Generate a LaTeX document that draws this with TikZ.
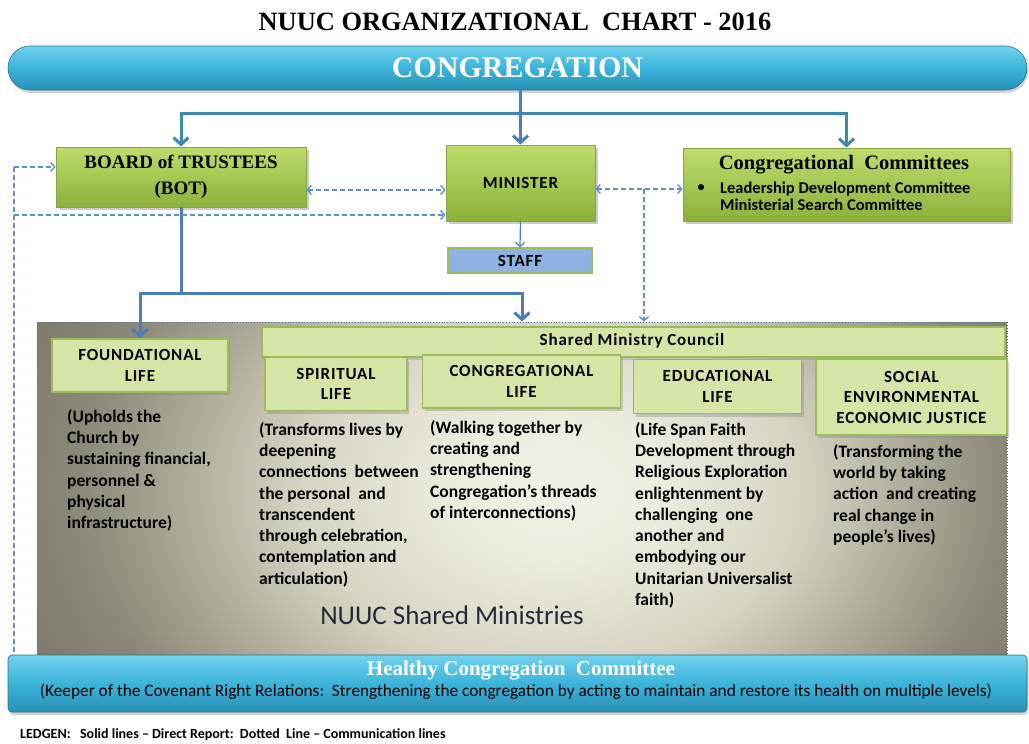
\documentclass[tikz,border=0pt]{standalone}
\usepackage{fontspec}
\setmainfont{Liberation Serif}
\newfontfamily\calib{Carlito}
\newfontfamily\calibsp[LetterSpace=5]{Carlito}
\usetikzlibrary{arrows.meta,shadows,calc}

\definecolor{cyanA}{HTML}{72D2EE}
\definecolor{cyanB}{HTML}{3BB4DA}
\definecolor{cyanC}{HTML}{2B90B6}
\definecolor{grnTop}{HTML}{BEDC6C}
\definecolor{grnBot}{HTML}{8BB13A}
\definecolor{grnEdge}{HTML}{86A63E}
\definecolor{lgrn}{HTML}{D5E5A6}
\definecolor{lgrnEdge}{HTML}{9BBB59}
\definecolor{lblue}{HTML}{8DB3E2}
\definecolor{lineBlue}{HTML}{4A7EBB}
\definecolor{lineTeal}{HTML}{3A8BAA}
\definecolor{dashBlue}{HTML}{5B8FD0}
\definecolor{bgA}{HTML}{F2F0E4}
\definecolor{bgB}{HTML}{EEECDF}
\definecolor{bgC}{HTML}{D6D3C3}
\definecolor{bgD}{HTML}{ADA999}
\definecolor{bgE}{HTML}{8C8879}
\definecolor{bgF}{HTML}{7A7668}
\definecolor{dotEdge}{HTML}{5A6E90}
\definecolor{smText}{HTML}{2A2838}

\pgfdeclareradialshading{bgshade}{\pgfpoint{2bp}{0bp}}{color(0bp)=(bgA); color(5bp)=(bgB); color(13bp)=(bgC); color(19bp)=(bgD); color(24bp)=(bgE); color(30bp)=(bgF); color(50bp)=(bgF)}

\begin{document}
\begin{tikzpicture}[x=1pt,y=-1pt,
  bar/.style={draw=cyanC!80!black, line width=0.6pt, top color=cyanA, bottom color=cyanC, middle color=cyanB,
    drop shadow={opacity=0.35,shadow xshift=1pt,shadow yshift=-3pt}, inner sep=0pt},
  gbox/.style={draw=grnEdge, line width=0.8pt, top color=grnTop, bottom color=grnBot,
    drop shadow={opacity=0.4, shadow xshift=3pt, shadow yshift=-3pt}, inner sep=0pt, align=center},
  lbox/.style={draw=lgrnEdge, line width=1.6pt, fill=lgrn,
    drop shadow={opacity=0.35, shadow xshift=2pt, shadow yshift=-3pt}, inner sep=0pt, align=center,
    font=\calibsp\bfseries\fontsize{17}{20.5}\selectfont},
  desc/.style={anchor=north west, inner sep=0pt, align=left, font=\calib\bfseries\fontsize{17.5}{21.3}\selectfont},
  direct/.style={draw=lineBlue, line width=3pt, -{Straight Barb[length=7pt,width=15pt]}},
  directteal/.style={draw=lineTeal, line width=3pt, -{Straight Barb[length=7pt,width=15pt]}},
  tealline/.style={draw=lineTeal, line width=3pt, line cap=rect},
  thinarrow/.style={draw=lineBlue, line width=1.2pt, -{Straight Barb[length=4pt,width=9pt]}},
  dashline/.style={draw=dashBlue, line width=1.4pt, dash pattern=on 5pt off 3pt},
  dend/.style={-{Straight Barb[length=4pt,width=9pt]}},
  dboth/.style={{Straight Barb[length=4pt,width=9pt]}-{Straight Barb[length=4pt,width=9pt]}}
]
\useasboundingbox (0,0) rectangle (1029,744);

% title
\node[font=\bfseries\fontsize{26.4}{28}\selectfont] (title) at (515,22) {NUUC ORGANIZATIONAL~~CHART - 2016};

% congregation bar
\node[bar, rounded corners=22pt, minimum width=1019pt, minimum height=44pt] (cong) at (517.5,68)
  {\raisebox{-3pt}{\color{white}\bfseries\fontsize{30}{30}\selectfont CONGREGATION}};

% top boxes
\node[gbox, minimum width=250pt, minimum height=60pt, font=\bfseries\fontsize{19}{26}\selectfont] (bot) at (181,177)
  {BOARD of TRUSTEES\\(BOT)};
\node[gbox, minimum width=149pt, minimum height=76pt, font=\calibsp\bfseries\fontsize{17}{20}\selectfont] (minister) at (520.5,183)
  {MINISTER};
\node[draw=lgrnEdge, line width=1.4pt, fill=lblue, minimum width=144pt, minimum height=25pt, inner sep=0pt,
  font=\calibsp\bfseries\fontsize{17}{20}\selectfont] (staff) at (520,260.5) {STAFF};
\node[gbox, minimum width=327pt, minimum height=73pt] (comm) at (846.5,184.5) {};
\node[font=\bfseries\fontsize{20.5}{22}\selectfont, inner sep=0pt] (commtitle) at (844,165) {Congregational~~Committees};
\node[font=\calib\bfseries\fontsize{14}{14}\selectfont, inner sep=0pt] (commbullet) at (701,188) {\textbullet};
\node[anchor=west, inner sep=0pt, align=left, font=\calib\bfseries\fontsize{16.5}{17}\selectfont] (commlist) at (720,196.5)
  {Leadership Development Committee\\Ministerial Search Committee};

% shared ministries background
\node[draw=dotEdge, line width=0.8pt, dotted, minimum width=970pt, minimum height=333pt, inner sep=0pt,
  path picture={\shade[shading=bgshade] ($(path picture bounding box.south west)+(0,180)$) rectangle ($(path picture bounding box.north east)+(0,-180)$);}]
  (shared) at (522,488.5) {};
\node[draw=lgrnEdge, line width=1.2pt, fill=lgrn, minimum width=743pt, minimum height=30pt, inner sep=0pt,
  drop shadow={opacity=0.3, shadow xshift=2pt, shadow yshift=-3pt}] (council) at (633.5,342) {};
\node[font=\calibsp\bfseries\fontsize{17}{20}\selectfont, inner sep=0pt] (counciltext) at (632,341) {Shared Ministry Council};

\node[lbox, minimum width=176pt, minimum height=53pt] (found) at (140,365.5) {FOUNDATIONAL\\LIFE};
\node[lbox, minimum width=142pt, minimum height=53pt] (spirit) at (336,384) {SPIRITUAL\\LIFE};
\node[lbox, minimum width=198pt, minimum height=53pt] (congl) at (521.5,381.5) {CONGREGATIONAL\\LIFE};
\node[lbox, minimum width=168pt, minimum height=54pt] (edu) at (717.5,386.5) {EDUCATIONAL\\LIFE};
\node[lbox, minimum width=191pt, minimum height=76pt] (social) at (911.5,397) {SOCIAL\\ENVIRONMENTAL\\ECONOMIC JUSTICE};

\node[desc] (founddesc) at (67,409) {(Upholds the\\Church by\\sustaining financial,\\personnel \&\\physical\\infrastructure)};
\node[desc] (spiritdesc) at (259,422) {(Transforms lives by\\deepening\\connections~~between\\the personal~~and\\transcendent\\through celebration,\\contemplation and\\articulation)};
\node[desc] (congldesc) at (430,420) {(Walking together by\\creating and\\strengthening\\Congregation’s threads\\of interconnections)};
\node[desc] (edudesc) at (635,422) {(Life Span Faith\\Development through\\Religious Exploration\\enlightenment by\\challenging~~one\\another and\\embodying our\\Unitarian Universalist\\faith)};
\node[desc] (socialdesc) at (833,444) {(Transforming the\\world by taking\\action~~and creating\\real change in\\people’s lives)};

\node[font=\calib\fontsize{27}{27}\selectfont, text=smText, inner sep=0pt] (smlabel) at (452,615) {NUUC Shared Ministries};

% healthy congregation bar
\node[bar, rounded corners=4pt, minimum width=1019pt, minimum height=57pt] (healthy) at (517.5,683.5) {};
\node[font=\bfseries\fontsize{21}{21}\selectfont, text=white, inner sep=0pt] (healthytitle) at (521,671)
  {Healthy Congregation~~Committee};
\node[font=\calib\fontsize{17.3}{17}\selectfont, inner sep=0pt] (healthysub) at (516,692)
  {(Keeper of the Covenant Right Relations:~~Strengthening the congregation by acting to maintain and restore its health on multiple levels)};

% legend
\node[anchor=west, inner sep=0pt, font=\calib\bfseries\fontsize{14}{14}\selectfont] (legend) at (20,735)
  {LEDGEN:~~~Solid lines – Direct Report:~~Dotted~~Line – Communication lines};

% direct report connectors
\coordinate (ct) at (520,113);
\draw[tealline] (bot.north |- ct) -- (comm.north |- ct);
\draw[directteal] (bot.north |- ct) -- (bot.north);
\draw[directteal] (comm.north |- ct) -- (comm.north);
\draw[direct] (minister.north |- cong.south) -- (minister.north);
\draw[thinarrow] (minister.south) -- (staff.north);
\coordinate (bs) at (181,293);
\draw[direct] (bot.south) -- (bs) -| (found.north);
\draw[direct] (bs) -| (shared.north);

% communication connectors
\draw[dashline, dboth] (bot.east |- 0,190) -- (minister.west |- 0,190);
\draw[dashline, dboth] (minister.east |- 0,189) -- (comm.west |- 0,189);
\coordinate (mc) at (644,189);
\draw[dashline, dend] (mc) -- (mc |- shared.north);
\coordinate (l1) at (14,167);
\coordinate (l2) at (14,215);
\draw[dashline, dend] (l1) -- (bot.west |- l1);
\draw[dashline] (l1) -- (l1 |- healthy.north);
\draw[dashline, dend] (l2) -- (minister.west |- l2);
\end{tikzpicture}
\end{document}
